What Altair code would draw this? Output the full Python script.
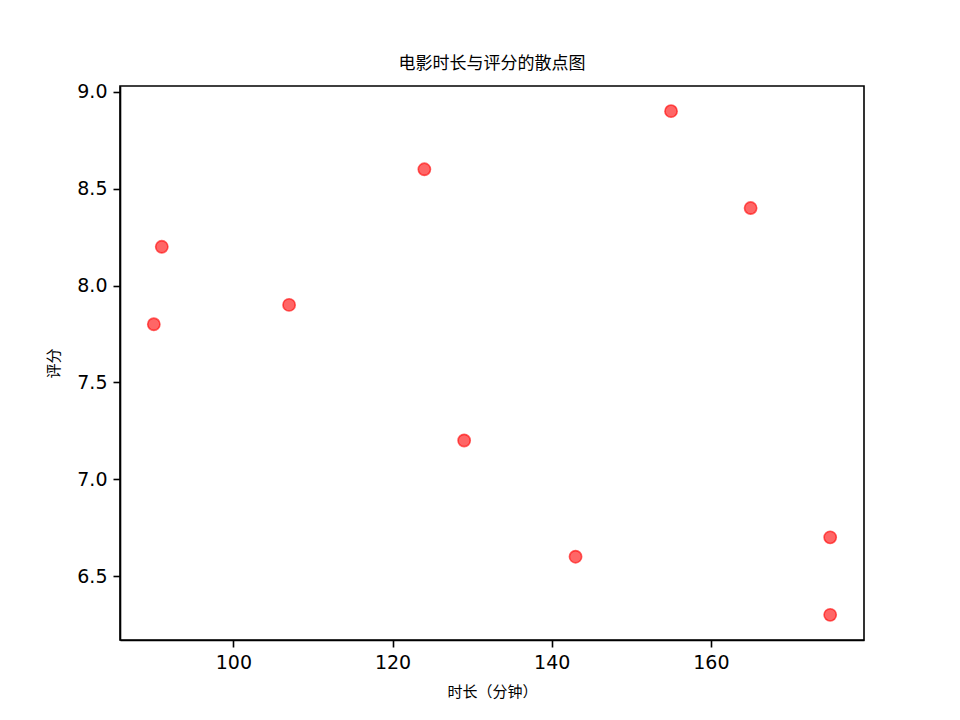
import altair as alt
import pandas as pd

durations = [90, 91, 107, 124, 129, 143, 155, 165, 175, 175]
ratings = [7.8, 8.2, 7.9, 8.6, 7.2, 6.6, 8.9, 8.4, 6.7, 6.3]
x_ticks = [100, 120, 140, 160]
y_ticks = [6.5, 7.0, 7.5, 8.0, 8.5, 9.0]

title_text = "电影时长与评分的散点图"
x_title = "时长（分钟）"
y_title = "评分"

df = pd.DataFrame({"duration": durations, "rating": ratings})

cjk = "Noto Sans CJK SC"
num_font = "DejaVu Sans"

chart = alt.Chart(df).mark_circle(
    size=150,
    color="red",
    fill="red",
    fillOpacity=0.6,
    stroke="red",
    strokeOpacity=0.6,
    strokeWidth=1.6,
    opacity=1,
).encode(
    x=alt.X(
        "duration:Q",
        scale=alt.Scale(domain=[85.75, 179.25], nice=False, zero=False),
        axis=alt.Axis(
            values=x_ticks,
            title=x_title,
            format="d",
            titleFont=cjk,
            titleFontSize=15,
            titleFontWeight="normal",
            titleColor="black",
            titlePadding=12,
        ),
    ),
    y=alt.Y(
        "rating:Q",
        scale=alt.Scale(domain=[6.17, 9.03], nice=False, zero=False),
        axis=alt.Axis(
            values=y_ticks,
            title=y_title,
            format=".1f",
            titleFont=cjk,
            titleFontSize=15,
            titleFontWeight="normal",
            titleColor="black",
            titlePadding=15,
        ),
    ),
).properties(
    width=744,
    height=554,
    title=alt.TitleParams(
        text=title_text,
        font=cjk,
        fontSize=17,
        fontWeight="normal",
        color="black",
        anchor="middle",
        offset=10,
    ),
    autosize=alt.AutoSizeParams(type="none"),
    padding={"left": 112, "top": 78, "right": 88, "bottom": 72},
).configure_view(
    stroke="black",
    strokeWidth=1.6,
).configure_axis(
    grid=False,
    domainColor="black",
    domainWidth=1.6,
    tickColor="black",
    tickWidth=1.6,
    tickSize=7,
    labelPadding=6,
    labelFont=num_font,
    labelFontSize=19,
    labelColor="black",
)

chart.save("out.html", embed_options={"renderer": "svg", "actions": False})
